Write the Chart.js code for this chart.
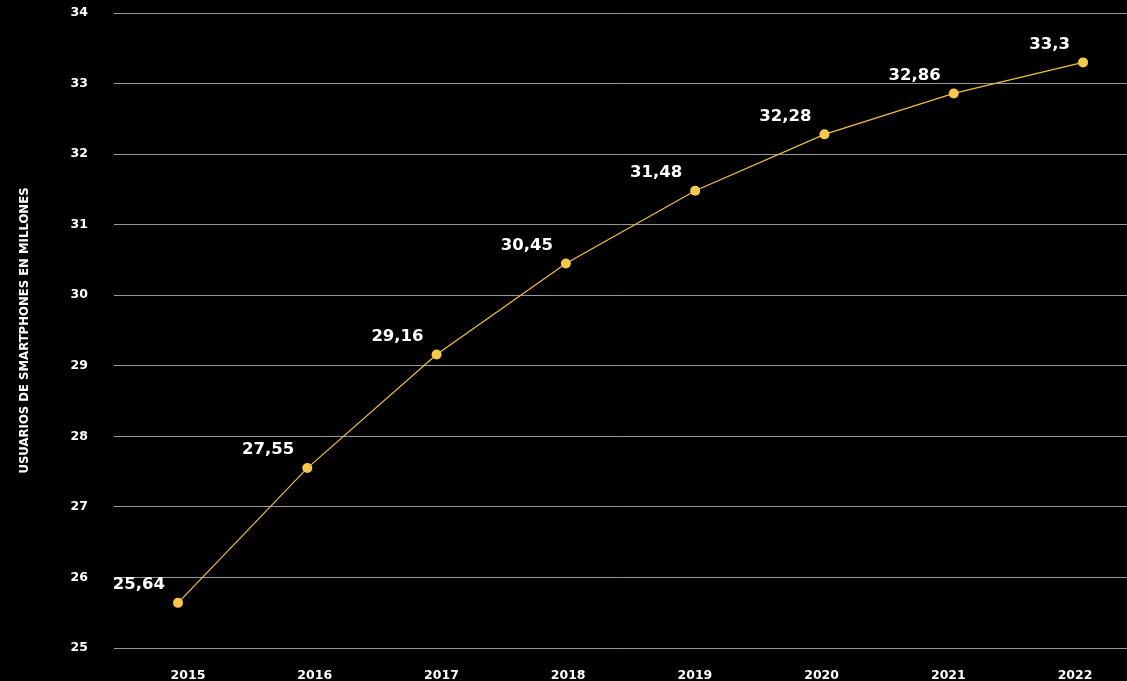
<!DOCTYPE html>
<html>
<head>
<meta charset="utf-8">
<script src="https://cdn.jsdelivr.net/npm/chart.js@4"></script>
<style>
  html, body { margin: 0; padding: 0; background: #000; }
  #wrap { width: 1127px; height: 681px; position: relative; }
</style>
</head>
<body>
<div id="wrap"><canvas id="grafico"></canvas></div>
<script>
// Datos del gráfico
const anios = [2015, 2016, 2017, 2018, 2019, 2020, 2021, 2022];
const usuarios = [25.64, 27.55, 29.16, 30.45, 31.48, 32.28, 32.86, 33.3];
const etiquetas = ['25,64', '27,55', '29,16', '30,45', '31,48', '32,28', '32,86', '33,3'];
const tituloY = 'USUARIOS DE SMARTPHONES EN MILLONES';

const fuente = 'DejaVu Sans, sans-serif';
const amarillo = '#f7c94b';

// Plugin sencillo para escribir el valor encima de cada punto
const etiquetasPlugin = {
    id: 'etiquetas',
    afterDatasetsDraw(chart) {
        const ctx = chart.ctx;
        const meta = chart.getDatasetMeta(0);
        ctx.save();
        ctx.fillStyle = '#ffffff';
        ctx.font = 'bold 16.5px ' + fuente;
        ctx.textAlign = 'right';
        ctx.textBaseline = 'middle';
        meta.data.forEach((p, i) => {
            ctx.fillText(etiquetas[i], p.x - 13, p.y - 18);
        });
        ctx.restore();
    }
};

const ctx = document.getElementById('grafico').getContext('2d');
new Chart(ctx, {
    type: 'line',
    data: {
        datasets: [{
            data: anios.map((a, i) => ({ x: a, y: usuarios[i] })),
            borderColor: '#f0c040',
            borderWidth: 1.2,
            backgroundColor: amarillo,
            pointBackgroundColor: amarillo,
            pointBorderWidth: 0,
            pointRadius: 5,
            tension: 0
        }]
    },
    options: {
        responsive: true,
        maintainAspectRatio: false,
        animation: false,
        layout: { autoPadding: false, padding: { top: 13, right: 0, left: 0, bottom: 0 } },
        plugins: {
            legend: { display: false },
            tooltip: { enabled: false }
        },
        scales: {
            x: {
                type: 'linear',
                display: false,
                min: 2014.505,
                max: 2022.34
            },
            x2: {
                type: 'linear',
                position: 'bottom',
                min: 2014.416,
                max: 2022.41,
                grid: { display: false, drawTicks: false },
                border: { display: false },
                ticks: {
                    stepSize: 1,
                    autoSkip: false,
                    includeBounds: false,
                    maxRotation: 0,
                    color: '#ffffff',
                    font: { family: fuente, weight: 'bold', size: 12.5 },
                    padding: 20,
                    callback: (v) => Number.isInteger(v) ? String(v) : ''
                },
                afterFit(scale) { scale.height = 33; }
            },
            y: {
                min: 25,
                max: 34,
                grid: { color: '#999999', lineWidth: 1, drawTicks: false },
                border: { display: false },
                ticks: {
                    stepSize: 1,
                    color: '#ffffff',
                    font: { family: fuente, weight: 'bold', size: 12.5 },
                    padding: 26
                },
                title: {
                    display: true,
                    text: tituloY,
                    color: '#ffffff',
                    font: { family: fuente, weight: 'bold', size: 11.7 },
                    padding: { top: 18, bottom: 0 }
                },
                afterFit(scale) {
                    scale.width = 114;
                    // el padding de los ticks no debe empujar el área hacia abajo
                    scale.paddingTop = 0;
                    scale.paddingBottom = 0;
                }
            }
        }
    },
    plugins: [etiquetasPlugin]
});
</script>
</body>
</html>
